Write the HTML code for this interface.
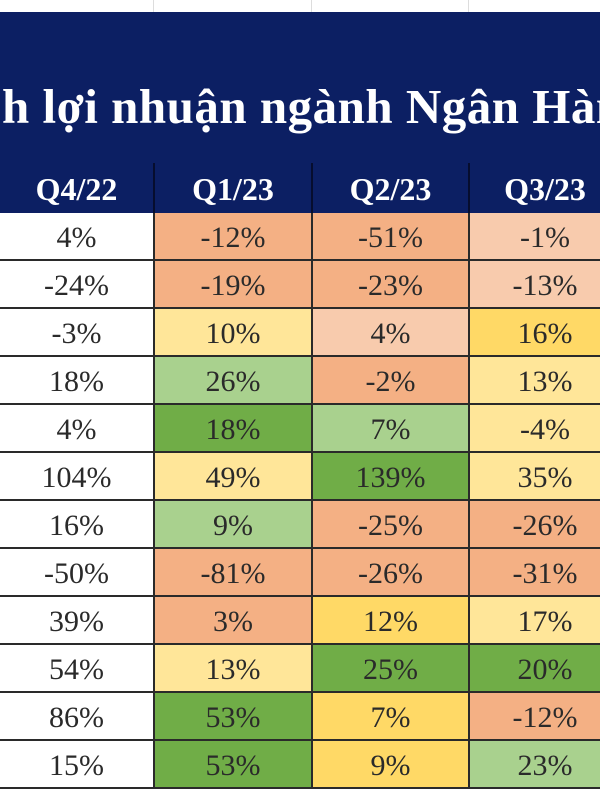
<!DOCTYPE html>
<html><head><meta charset="utf-8">
<style>
body{margin:0;width:600px;height:800px;background:#fff;overflow:hidden;position:relative;font-family:"Liberation Serif",serif;}
#band{position:absolute;left:0;top:12px;width:600px;height:201px;background:#0c1f63;}
#title{position:absolute;left:2px;top:78px;color:#fff;font-weight:bold;font-size:49px;white-space:nowrap;letter-spacing:0.5px;}
.hdr{position:absolute;top:163px;height:50px;line-height:52px;text-align:center;color:#fff;font-weight:bold;font-size:32px;border-left:2px solid #060d2e;box-sizing:border-box;}
.cell{position:absolute;height:48px;line-height:50px;text-align:center;color:#2a2a2a;font-size:30px;box-sizing:border-box;border-bottom:2px solid #2a2a2a;border-left:2px solid #2a2a2a;}
.grid{position:absolute;top:0;width:1px;height:12px;background:#ddd;}
</style></head><body>
<div class="grid" style="left:153px"></div>
<div class="grid" style="left:311px"></div>
<div class="grid" style="left:468px"></div>
<div id="band"></div>
<div id="title">h lợi nhuận ngành Ngân Hàng</div>
<div id="tbl"></div>
<script>
const quarters=["Q4/22","Q1/23","Q2/23","Q3/23"];
const q4_22=["4%","-24%","-3%","18%","4%","104%","16%","-50%","39%","54%","86%","15%"];
const q1_23=["-12%","-19%","10%","26%","18%","49%","9%","-81%","3%","13%","53%","53%"];
const q2_23=["-51%","-23%","4%","-2%","7%","139%","-25%","-26%","12%","25%","7%","9%"];
const q3_23=["-1%","-13%","16%","13%","-4%","35%","-26%","-31%","17%","20%","-12%","23%"];
// colour classes: o=orange s=salmon y=yellow l=light-yellow g=light-green G=green
const c1=["o","o","l","g","G","l","g","o","o","l","G","G"];
const c2=["o","o","s","o","g","G","o","o","y","G","y","y"];
const c3=["s","s","y","l","l","l","o","o","l","G","o","g"];
const pal={w:"#ffffff",o:"#f4b084",s:"#f8cbad",y:"#ffd966",l:"#ffe699",g:"#a9d18e",G:"#70ad47"};
const colX=[0,153,311,468,600];
const top0=213,rowH=48;
const tbl=document.getElementById('tbl');
quarters.forEach((q,i)=>{
  const d=document.createElement('div');
  d.className='hdr';
  
  
  d.style.left=colX[i]+'px';d.style.width=(colX[i+1]-colX[i]+(i==3?20:0))+'px';
  if(i==0)d.style.borderLeft='none';
  d.textContent=q;tbl.appendChild(d);
});
const cols=[q4_22,q1_23,q2_23,q3_23];
const colors=[q4_22.map(()=>"w"),c1,c2,c3];
cols.forEach((vals,ci)=>{
  vals.forEach((v,ri)=>{
    const d=document.createElement('div');
    d.className='cell';
    
    
    d.style.left=colX[ci]+'px';
    d.style.width=(colX[ci+1]-colX[ci]+(ci==3?20:0))+'px';
    d.style.top=(top0+ri*rowH)+'px';
    d.style.background=pal[colors[ci][ri]];
    if(ci==0)d.style.borderLeft='none';
    d.textContent=v;tbl.appendChild(d);
  });
});
</script>
</body></html>
